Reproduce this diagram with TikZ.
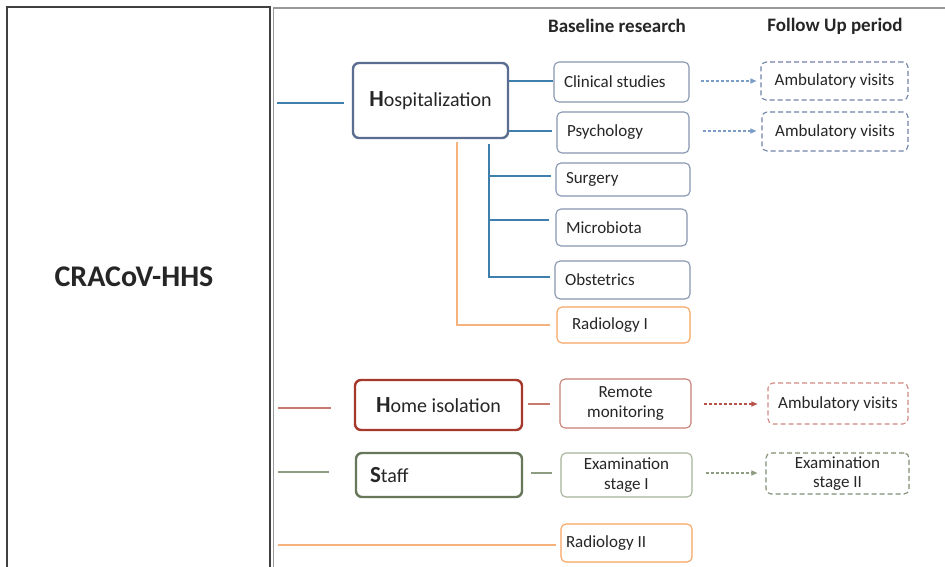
\documentclass[tikz,border=0pt]{standalone}
\usepackage{fontspec}
\setmainfont{Carlito}
\usetikzlibrary{arrows.meta,calc}
\definecolor{txt}{HTML}{262626}
\definecolor{hospc}{HTML}{5B6E91}
\definecolor{bthin}{HTML}{8796B0}
\definecolor{bline}{HTML}{3F7FAE}
\definecolor{barrow}{HTML}{7A9CC6}
\definecolor{bdash}{HTML}{6F84A6}
\definecolor{orl}{HTML}{F6B27C}
\definecolor{orb}{HTML}{F4A460}
\definecolor{redc}{HTML}{A5382B}
\definecolor{redthin}{HTML}{C77F76}
\definecolor{redline}{HTML}{C87A70}
\definecolor{redarrow}{HTML}{B5524A}
\definecolor{reddash}{HTML}{D08A82}
\definecolor{grc}{HTML}{66775A}
\definecolor{grthin}{HTML}{A7B39A}
\definecolor{grline}{HTML}{8E9C82}
\definecolor{grdash}{HTML}{7F8E72}
\newcommand{\fs}{\fontsize{17}{19.5}\selectfont}
\tikzset{
  every node/.style={text=txt, inner sep=0pt},
  thinbox/.style={draw, rounded corners=5pt, line width=1.1pt, font=\fs, inner xsep=10pt},
  lbox/.style={thinbox, align=flush left},
  cbox/.style={thinbox, align=center},
  dbox/.style={draw, rounded corners=5pt, line width=1.1pt, dash pattern=on 5pt off 3pt, font=\fs, align=center},
  bigbox/.style={draw, rounded corners=6pt, line width=2.4pt, fill=white},
  conn/.style={line width=1.2pt},
  farrow/.style={line width=1.1pt, dash pattern=on 3pt off 2pt, -{Triangle[length=6pt,width=5pt]}},
  hdr/.style={font=\fontsize{19}{22}\selectfont\bfseries},
}
\begin{document}
\begin{tikzpicture}[x=1pt,y=-1pt]
\useasboundingbox (0,0) rectangle (945,567);
\clip (0,0) rectangle (945,567);
\fill[white] (0,0) rectangle (945,567);
% frames
\draw[line width=1.4pt, draw=black!75] (7,575) -- (7,7) -- (270,7) -- (270,575);
\draw[line width=1.2pt, draw=black!40] (273.5,575) -- (273.5,8) -- (950,8);
\node[font=\fontsize{30}{34}\selectfont\bfseries] (title) at (134,277) {CRACoV-HHS};
% headers
\node[hdr] (h1) at (617,26) {Baseline research};
\node[hdr] (h2) at (835,26) {Follow Up period};
% hospitalization
\node[bigbox, draw=hospc, minimum width=155pt, minimum height=75pt] (hosp) at (430.5,100.5)
  {\fontsize{23}{26}\selectfont\bfseries H\fontsize{20}{24}\selectfont\mdseries ospitalization};
\node[lbox, draw=bthin, text width=115pt, minimum height=40pt] (clin) at (621.5,82) {Clinical studies};
\node[lbox, draw=bthin, text width=112pt, inner xsep=10pt, minimum height=41pt] (psych) at (623,132.5) {Psychology};
\node[lbox, draw=bthin, text width=114pt, minimum height=33pt] (surg) at (623,179.5) {Surgery};
\node[lbox, draw=bthin, text width=111pt, minimum height=37pt] (micro) at (621.5,227.5) {Microbiota};
\node[lbox, draw=bthin, text width=115pt, minimum height=38pt] (obst) at (622.5,280) {Obstetrics};
\node[lbox, draw=orb, text width=119pt, inner xsep=7pt, minimum height=36pt] (rad1) at (623.5,325) {\hspace*{8pt}Radiology I};
\node[dbox, draw=bdash, minimum width=147pt, minimum height=38pt] (amb1) at (834.5,81) {Ambulatory visits};
\node[dbox, draw=bdash, minimum width=146pt, minimum height=39pt] (amb2) at (835,131.5) {Ambulatory visits};
% home isolation
\node[bigbox, draw=redc, minimum width=167pt, minimum height=50pt] (home) at (438.5,405)
  {\fontsize{23}{26}\selectfont\bfseries H\fontsize{20}{24}\selectfont\mdseries ome isolation};
\node[cbox, draw=redthin, minimum width=131pt, minimum height=49pt] (remote) at (625.5,403.5) {Remote\\monitoring};
\node[dbox, draw=reddash, minimum width=140pt, minimum height=41pt] (amb3) at (838,403.5) {Ambulatory visits};
% staff
\node[bigbox, draw=grc, minimum width=166pt, minimum height=44pt, text width=138pt, align=flush left, inner xsep=14pt] (staff) at (439,475)
  {\fontsize{23}{26}\selectfont\bfseries S\fontsize{20}{24}\selectfont\mdseries taff};
\node[cbox, draw=grthin, minimum width=131pt, minimum height=44pt] (exam1) at (626.5,475) {Examination\\stage I};
\node[dbox, draw=grdash, minimum width=143pt, minimum height=41pt] (exam2) at (837.5,473.5) {Examination\\stage II};
% radiology II
\node[lbox, draw=orb, text width=121pt, inner xsep=5pt, minimum height=38pt] (rad2) at (626.5,543) {Radiology II};
% free ends
\coordinate (hL) at (277,103);
\coordinate (homeL) at (278,408);
\coordinate (staffL) at (278,472);
\coordinate (radL) at (278,545);
% connectors hospitalization
\draw[conn, bline] (hL) -- ([xshift=-8pt]hL -| hosp.west);
\draw[conn, bline] ([yshift=1pt]clin.west -| hosp.east) -- ([yshift=1pt]clin.west);
\draw[conn, bline] ([yshift=1.5pt]psych.west -| hosp.east) -- ([xshift=-4pt,yshift=1.5pt]psych.west);
\draw[conn, bline] ([xshift=58.5pt,yshift=-5pt]hosp.south) |- ([xshift=-4pt,yshift=3pt]obst.west);
\draw[conn, bline] ([xshift=58.5pt,yshift=3.5pt]hosp.south |- surg.west) -- ([xshift=-4pt,yshift=3.5pt]surg.west);
\draw[conn, bline] ([xshift=58.5pt,yshift=7.5pt]hosp.south |- micro.west) -- ([xshift=-6pt,yshift=7.5pt]micro.west);
\draw[conn, orl] ([xshift=26.5pt,yshift=-3pt]hosp.south) |- ([xshift=-6pt]rad1.west);
\draw[farrow, barrow] ([xshift=11pt,yshift=1pt]clin.east) -- ([xshift=-4pt]amb1.west);
\draw[farrow, barrow] ([xshift=13pt,yshift=1.5pt]psych.east) -- ([xshift=-5pt,yshift=0.5pt]amb2.west);
% home
\draw[conn, redline] (homeL) -- ([xshift=-23pt]homeL -| home.west);
\draw[conn, redline] ([xshift=5pt,yshift=1pt]home.east) -- ([xshift=-9pt,yshift=-0.5pt]remote.west);
\draw[farrow, redarrow] ([xshift=12pt,yshift=-0.5pt]remote.east) -- ([xshift=-10pt,yshift=-0.5pt]amb3.west);
% staff
\draw[conn, grline] (staffL) -- ([xshift=-26pt]staffL -| staff.west);
\draw[conn, grline] ([xshift=8pt,yshift=2pt]staff.east) -- ([xshift=-8pt,yshift=2pt]exam1.west);
\draw[farrow, grline] ([xshift=13pt,yshift=2pt]exam1.east) -- ([xshift=-8pt,yshift=0.5pt]exam2.west);
% radiology II
\draw[conn, orl] (radL) -- ([xshift=-4pt]radL -| rad2.west);
\end{tikzpicture}
\end{document}
